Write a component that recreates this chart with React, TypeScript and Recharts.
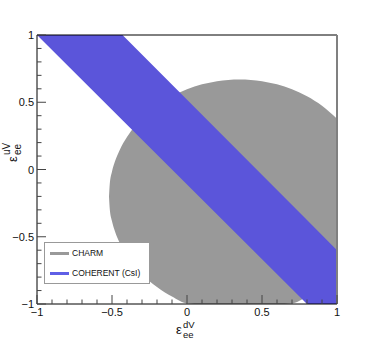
import React from 'react';
import { ComposedChart, Area, XAxis, YAxis, ReferenceLine } from 'recharts';

document.body.style.margin = '0';

const charmX = [-0.52, -0.515, -0.5, -0.48, -0.45, -0.4, -0.35, -0.3, -0.2, -0.1, 0, 0.1, 0.2, 0.35, 0.5, 0.6, 0.7, 0.8, 0.9, 1.0];
const charmLow = [-0.2, -0.293, -0.385, -0.461, -0.542, -0.641, -0.717, -0.778, -0.874, -0.945, -0.996, -1, -1, -1, -1, -1, -0.996, -0.945, -0.874, -0.778];
const charmHigh = [-0.2, -0.107, -0.015, 0.061, 0.142, 0.241, 0.317, 0.378, 0.474, 0.545, 0.596, 0.633, 0.657, 0.67, 0.657, 0.633, 0.596, 0.545, 0.474, 0.378];

// COHERENT (CsI) band
const bandX = [-1, -0.43, 0.8, 1];
const bandLow = [1, 0.367, -1, -1];
const bandHigh = [1, 1, -0.376, -0.6];

const axisTicks = [-1, -0.9, -0.8, -0.7, -0.6, -0.5, -0.4, -0.3, -0.2, -0.1, 0, 0.1, 0.2, 0.3, 0.4, 0.5, 0.6, 0.7, 0.8, 0.9, 1];

const GRAY = '#999999';
const BLUE = '#5b55da';
const FONT = '"Liberation Sans", Arial, sans-serif';

const charmData = charmX.map((x, i) => ({ x, range: [charmLow[i], charmHigh[i]] }));
const bandData = bandX.map((x, i) => ({ x, range: [bandLow[i], bandHigh[i]] }));

const isMajor = (v: number) => Math.abs(v * 2 - Math.round(v * 2)) < 1e-6;
const fmt = (v: number) => (v < 0 ? '\u2212' + Math.abs(v) : String(v));

const XTick = (props: any) => {
  const { x, y, payload } = props;
  const major = isMajor(payload.value);
  return (
    <g>
      <line x1={x} y1={y} x2={x} y2={y - (major ? 9 : 4.5)} stroke="#444" />
      {major && (
        <text x={x} y={y + 12} textAnchor="middle" fontSize={11} fontFamily={FONT} fill="#111">
          {fmt(payload.value)}
        </text>
      )}
    </g>
  );
};

const YTick = (props: any) => {
  const { x, y, payload } = props;
  const major = isMajor(payload.value);
  return (
    <g>
      <line x1={x} y1={y} x2={x + (major ? 9 : 4.5)} y2={y} stroke="#444" />
      {major && (
        <text x={x - 3} y={y + 4} textAnchor="end" fontSize={11} fontFamily={FONT} fill="#111">
          {fmt(payload.value)}
        </text>
      )}
    </g>
  );
};

const XTitle = () => (
  <g fontFamily={FONT} fill="#111">
    <text x={176} y={334} fontSize={13}>ε</text>
    <text x={183} y={328} fontSize={9.5}>dV</text>
    <text x={183} y={338} fontSize={9.5}>ee</text>
  </g>
);

const YTitle = () => (
  <g fontFamily={FONT} fill="#111" transform="translate(17,162) rotate(-90)">
    <text x={0} y={0} fontSize={13}>ε</text>
    <text x={7} y={-7} fontSize={10}>uV</text>
    <text x={7} y={4} fontSize={10}>ee</text>
  </g>
);

const LegendBox = () => (
  <div
    style={{
      position: 'absolute',
      left: 44,
      top: 242,
      width: 106,
      height: 42,
      border: '1px solid #999',
      background: '#fff',
      fontFamily: FONT,
      fontSize: 8.5,
      color: '#111',
      boxSizing: 'border-box',
    }}
  >
    {[
      { name: 'CHARM', color: GRAY, top: 10 },
      { name: 'COHERENT (CsI)', color: '#5f5fe6', top: 30 },
    ].map((e) => (
      <div key={e.name} style={{ position: 'absolute', left: 5, top: e.top - 6, height: 12, display: 'flex', alignItems: 'center' }}>
        <div style={{ width: 19, height: 3, background: e.color, marginRight: 3 }} />
        <span>{e.name}</span>
      </div>
    ))}
  </div>
);

export default function App() {
  return (
    <div style={{ position: 'relative', width: 374, height: 355, background: '#fff' }}>
      <ComposedChart width={374} height={355} margin={{ top: 35, right: 37, bottom: 50, left: 36 }}>
        <XAxis
          type="number"
          dataKey="x"
          domain={[-1, 1]}
          ticks={axisTicks}
          interval={0}
          allowDataOverflow
          height={1}
          tickSize={0}
          tickMargin={0}
          tick={<XTick />}
          axisLine={{ stroke: '#000' }}
          tickLine={false}
          label={<XTitle />}
        />
        <YAxis
          type="number"
          domain={[-1, 1]}
          ticks={axisTicks}
          interval={0}
          allowDataOverflow
          width={1}
          tickSize={0}
          tickMargin={0}
          tick={<YTick />}
          axisLine={{ stroke: '#000' }}
          tickLine={false}
          label={<YTitle />}
        />
        <Area
          data={charmData}
          dataKey="range"
          type="monotone"
          stroke="none"
          fill={GRAY}
          fillOpacity={1}
          dot={false}
          activeDot={false}
          isAnimationActive={false}
        />
        <Area
          data={bandData}
          dataKey="range"
          type="linear"
          stroke="none"
          fill={BLUE}
          fillOpacity={1}
          dot={false}
          activeDot={false}
          isAnimationActive={false}
        />
        <ReferenceLine y={1} stroke="#000" />
        <ReferenceLine x={1} stroke="#808080" strokeWidth={2} />
      </ComposedChart>
      <LegendBox />
    </div>
  );
}
